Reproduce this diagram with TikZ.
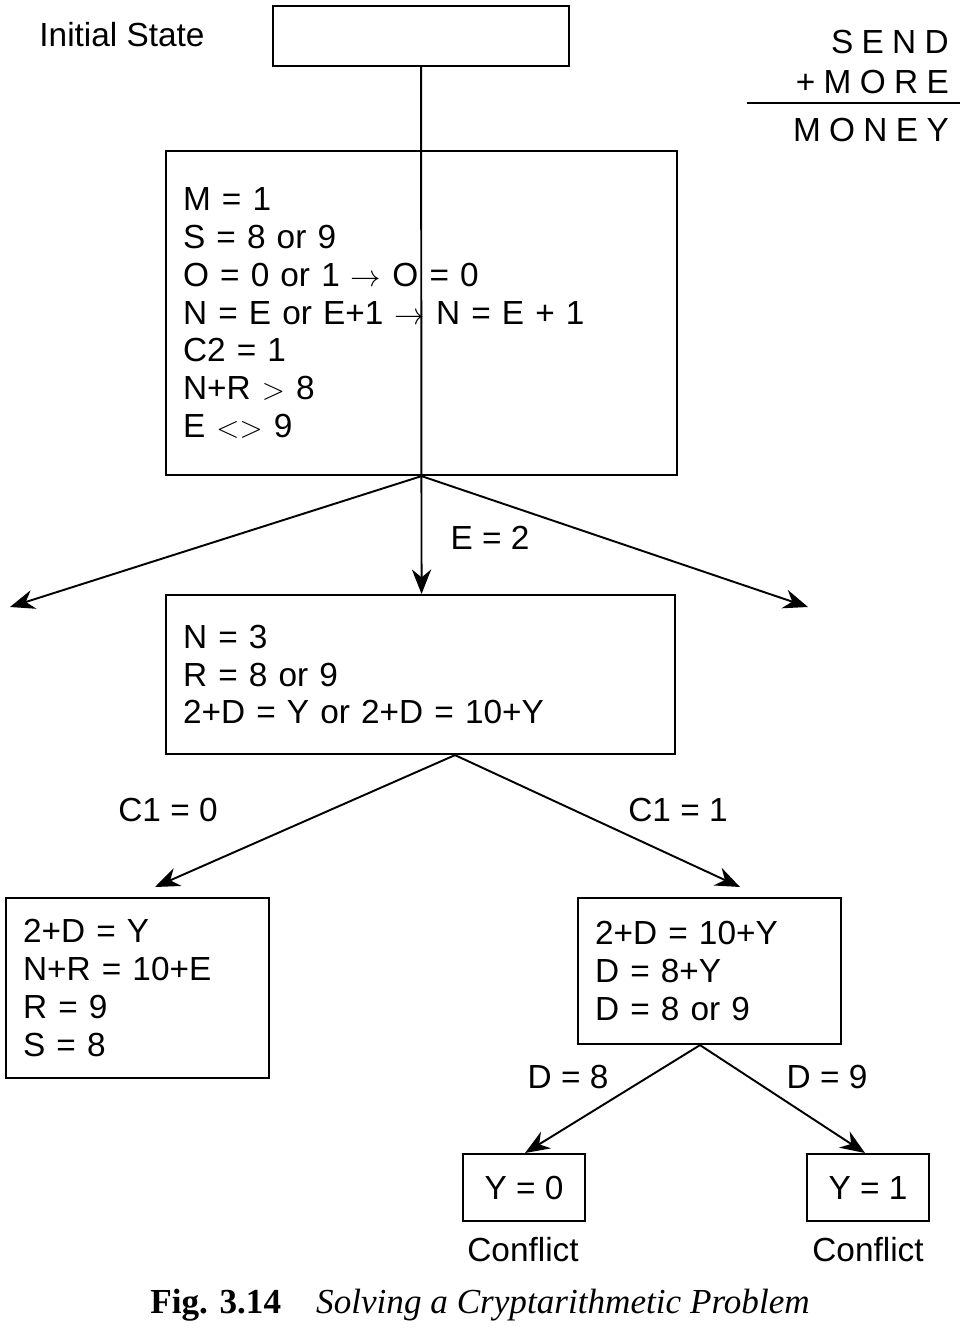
\documentclass[tikz,border=0pt]{standalone}
\usepackage{fontspec}
\setmainfont{Liberation Sans}
\newfontfamily\capfont{Liberation Serif}
\usetikzlibrary{arrows.meta}
\tikzset{
  box/.style={draw,line width=1.2pt,anchor=north west,inner sep=0pt,
    align=left,font=\fontsize{19}{21.5}\selectfont},
  lbl/.style={font=\fontsize{19}{22}\selectfont},
  arr/.style={line width=1.1pt,-{Stealth[length=14pt,width=11pt]}},
}
\newcommand{\bx}[6]{% name, x1, y1, x2, y2, text
  \node[box,minimum width={(#4-#2)*0.02cm},minimum height={(#5-#3)*0.02cm},
    text width={(#4-#2-34)*0.02cm}] (#1) at (#2,#3) {#6};}
\begin{document}
\begin{tikzpicture}[x=0.02cm,y=-0.02cm]
\useasboundingbox (0,0) rectangle (976,1337);

% boxes
\bx{init}{272}{5}{568}{65}{}
\bx{top}{165}{150}{676}{474}{M = 1\\S = 8 or 9\\O = 0 or 1 $\rightarrow$ O = 0\\
  N = E or E+1 $\rightarrow$ N = E + 1\\C2 = 1\\N+R $>$ 8\\E $<>$ 9}
\bx{mid}{165}{594}{674}{753}{N = 3\\R = 8 or 9\\2+D = Y or 2+D = 10+Y}
\bx{left}{5}{897}{268}{1077}{2+D = Y\\N+R = 10+E\\R = 9\\S = 8}
\bx{right}{577}{897}{840}{1043}{2+D = 10+Y\\D = 8+Y\\D = 8 or 9}
\node[box,minimum width=2.44cm,minimum height=1.34cm,align=center] (y0) at (462,1153) {Y = 0};
\node[box,minimum width=2.44cm,minimum height=1.34cm,align=center] (y1) at (806,1153) {Y = 1};

% free ends of the side branches
\coordinate (fl) at (10,607);
\coordinate (fr) at (808,607);

% connectors
\draw[arr] (init.south) -- (top.south |- mid.north);
\draw[arr] (top.south) -- (fl);
\draw[arr] (top.south) -- (fr);
\draw[arr] (mid.south -| 455,0) -- (155,887);
\draw[arr] (mid.south -| 455,0) -- (740,887);
\draw[arr] (right.south -| 700,0) -- (525,1153);
\draw[arr] (right.south -| 700,0) -- (865,1153);

% labels
\node[lbl] (st) at (122,35) {Initial State};
\node[lbl] (e2) at (490,538) {E = 2};
\node[lbl] (c0) at (168,810) {C1 = 0};
\node[lbl] (c1) at (678,810) {C1 = 1};
\node[lbl] (d8) at (568,1077) {D = 8};
\node[lbl] (d9) at (827,1077) {D = 9};
\node[lbl] (k0) at (523,1250) {Conflict};
\node[lbl] (k1) at (868,1250) {Conflict};

% puzzle
\node[lbl,anchor=east] (send) at (955,42) {\addfontfeature{LetterSpace=25}SEND};
\node[lbl,anchor=east] (more) at (955,82) {\addfontfeature{LetterSpace=25}+MORE};
\draw[line width=1.2pt] (747,103) -- (960,103);
\node[lbl,anchor=east] (money) at (955,130) {\addfontfeature{LetterSpace=25}MONEY};

% caption
\node[font=\capfont\fontsize{20}{24}\selectfont] (cap) at (480,1305)
  {\textbf{Fig. 3.14}\quad\textit{Solving a Cryptarithmetic Problem}};
\end{tikzpicture}
\end{document}
